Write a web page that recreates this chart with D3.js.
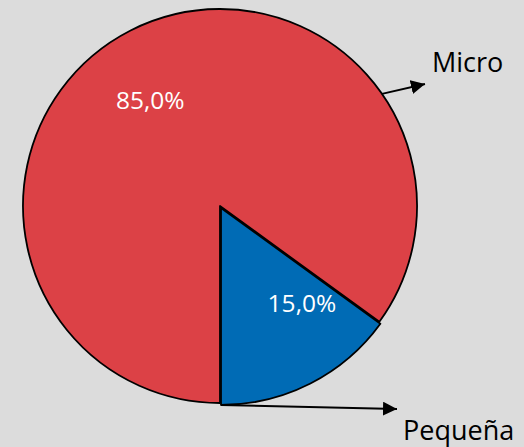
<!DOCTYPE html>
<html><head><meta charset="utf-8">
<script src="https://cdn.jsdelivr.net/npm/d3@7"></script>
<style>html,body{margin:0;padding:0;background:#dcdcdc;}svg{display:block;}</style>
</head><body>
<script>
const categories = ["Micro", "Pequeña"];
const values = [85.0, 15.0];
const valueLabels = ["85,0%", "15,0%"];
const colors = ["#dc4146", "#006bb5"];

const W = 524, H = 447, cx = 220, cy = 206, R = 197;
const FONT = "'Open Sans', Lato, sans-serif";
const svg = d3.select("body").append("svg").attr("width", W).attr("height", H);
svg.append("rect").attr("width", W).attr("height", H).attr("fill", "#dcdcdc");

const data = categories.map((c, i) => ({cat: c, value: values[i], label: valueLabels[i], color: colors[i]}));
const pie = d3.pie().value(d => d.value).sort(null).startAngle(Math.PI).endAngle(3 * Math.PI);
const arcs = pie(data);
const arc = d3.arc().innerRadius(0).outerRadius(R);
const explode = [0, 2.2];
const labelR = 127;
const labelShift = [-0.11, -0.23]; // radians, best-fit placement
const g = svg.append("g").attr("transform", `translate(${cx},${cy})`);

g.selectAll("path.slice").data(arcs).join("path")
  .attr("class", "slice")
  .attr("d", arc)
  .attr("fill", d => d.data.color)
  .attr("stroke", "#000").attr("stroke-width", 1.8).attr("stroke-linejoin", "round")
  .attr("transform", (d, i) => {
    const m = (d.startAngle + d.endAngle) / 2;
    return `translate(${Math.sin(m) * explode[i]},${-Math.cos(m) * explode[i]})`;
  });

g.selectAll("text.pct").data(arcs).join("text")
  .attr("class", "pct")
  .attr("x", (d, i) => Math.sin((d.startAngle + d.endAngle) / 2 + labelShift[i]) * labelR)
  .attr("y", (d, i) => -Math.cos((d.startAngle + d.endAngle) / 2 + labelShift[i]) * labelR)
  .attr("text-anchor", "middle").attr("dy", "0.36em")
  .attr("font-family", FONT).attr("font-size", 24.5)
  .attr("fill", "#fff").text(d => d.data.label);

const defs = svg.append("defs");
defs.append("marker").attr("id", "arr").attr("viewBox", "0 0 10 10").attr("refX", 10).attr("refY", 5)
  .attr("markerWidth", 7).attr("markerHeight", 7).attr("markerUnits", "strokeWidth").attr("orient", "auto")
  .append("path").attr("d", "M0,0L10,5L0,10Z").attr("fill", "#000");

// leader anchors: angle on the arc (degrees, clockwise from top) and end points relative to center
const leaderAngle = [55.3, 180];
const leaderEnd = [[205, -122], [177, 203]];
const labelPos = [[212, -134], [183, 234]];

arcs.forEach((d, i) => {
  const a = leaderAngle[i] * Math.PI / 180;
  const ex = explode[i], m = (d.startAngle + d.endAngle) / 2;
  const x0 = Math.sin(a) * R + Math.sin(m) * ex, y0 = -Math.cos(a) * R - Math.cos(m) * ex;
  g.append("line").attr("x1", x0).attr("y1", y0)
    .attr("x2", leaderEnd[i][0]).attr("y2", leaderEnd[i][1])
    .attr("stroke", "#000").attr("stroke-width", 2).attr("marker-end", "url(#arr)");
  g.append("text").attr("x", labelPos[i][0]).attr("y", labelPos[i][1])
    .attr("font-family", FONT).attr("font-size", 27)
    .attr("fill", "#000").text(d.data.cat);
});
</script>
</body></html>
